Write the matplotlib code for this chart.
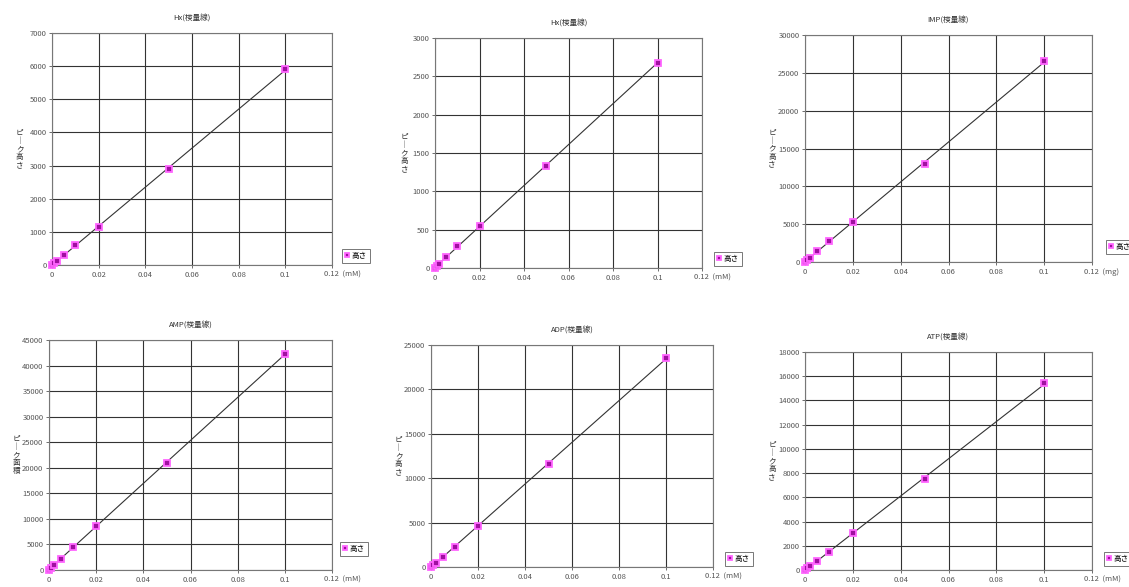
import numpy as np
import matplotlib
matplotlib.use("Agg")
import matplotlib.pyplot as plt
import matplotlib.transforms as mtrans

plt.rcParams['font.family'] = ['Noto Sans CJK JP', 'DejaVu Sans']

# concentrations (same for every standard)
conc = [0, 0.001, 0.002, 0.005, 0.01, 0.02, 0.05, 0.1]

titles = ["Hx(検量線)", "Hx(検量線)", "IMP(検量線)",
          "AMP(検量線)", "ADP(検量線)", "ATP(検量線)"]
ylabels = ["ピーク高さ", "ピーク高さ", "ピーク高さ",
           "ピーク面積", "ピーク高さ", "ピーク高さ"]
units = ["(mM)", "(mM)", "(mg)", "(mM)", "(mM)", "(mM)"]
legend_label = "高さ"

hx = [0, 60, 120, 290, 590, 1160, 2900, 5900]
hxr = [0, 28, 55, 150, 285, 550, 1330, 2680]
imp = [0, 270, 550, 1400, 2780, 5300, 13000, 26500]
amp = [0, 450, 900, 2250, 4500, 8700, 21000, 42200]
adp = [0, 235, 470, 1100, 2200, 4600, 11600, 23500]
atp = [0, 150, 300, 750, 1450, 3050, 7500, 15400]
series = [hx, hxr, imp, amp, adp, atp]

ymax = [7000, 3000, 30000, 45000, 25000, 18000]
ystep = [1000, 500, 5000, 5000, 5000, 2000]

xticks = [0, 0.02, 0.04, 0.06, 0.08, 0.1, 0.12]
xticklabels = ["0", "0.02", "0.04", "0.06", "0.08", "0.1", "0.12"]

W, H = 1129, 587
# axes boxes in pixels: left, top, right, bottom
boxes = [(52, 33, 332, 265), (435, 38, 702, 268), (805, 35, 1092, 262),
         (49, 340, 332, 570), (431, 345, 713, 567), (805, 352, 1092, 570)]
# legend anchor in pixels: left x, centre y
leg_pos = [(338, 256), (710, 259), (1102, 247),
           (336, 549), (721, 559), (1100, 559)]

fig = plt.figure(figsize=(W / 100, H / 100), dpi=100)
fig.patch.set_facecolor("white")

tc = "#555555"
fs = 5.5

for i in range(6):
    l, t, r, b = boxes[i]
    ax = fig.add_axes([l / W, 1 - b / H, (r - l) / W, (b - t) / H])
    y = series[i]
    # trendline through the points
    k, c = np.polyfit(conc, y, 1)
    xl = np.array([0, 0.1])
    ax.plot(xl, k * xl + c, color="#333333", lw=0.8, zorder=3)
    ax.plot(conc, y, ls="none", marker="s", ms=5, color="#a010a0",
            mec="#ff66ff", mew=1.3, label=legend_label, zorder=4,
            clip_on=False)

    ax.set_xlim(0, 0.12)
    ax.set_ylim(0, ymax[i])
    ax.set_xticks(xticks)
    labs = xticklabels[:-1] + [xticklabels[-1] + "  " + units[i]]
    ax.set_xticklabels(labs)
    ax.set_yticks(np.arange(0, ymax[i] + 1, ystep[i]))
    ax.set_yticklabels([str(v) for v in np.arange(0, ymax[i] + 1, ystep[i])])
    ax.tick_params(labelsize=fs, colors=tc, length=2, width=0.6, pad=2)
    # last label: keep "0.12" centred on its tick, unit hangs to the right
    last = ax.get_xticklabels()[-1]
    last.set_horizontalalignment("left")
    last.set_transform(last.get_transform() +
                       mtrans.ScaledTranslation(-6 / 72, 0, fig.dpi_scale_trans))
    ax.grid(True, color="#333333", lw=0.8)
    ax.set_axisbelow(True)
    for s in ax.spines.values():
        s.set_color("#777777")
        s.set_linewidth(0.8)

    ax.set_title(titles[i], fontsize=fs, color="#333333", pad=9)
    ax.text(-0.115, 0.5, "\n".join(ylabels[i].replace("ー", "｜")),
            transform=ax.transAxes, fontsize=fs, color="#333333",
            ha="center", va="center", linespacing=1.0)

    lx, ly = leg_pos[i]
    leg = ax.legend(loc="center left", bbox_to_anchor=(lx / W, 1 - ly / H),
                    bbox_transform=fig.transFigure, fontsize=fs,
                    frameon=True, fancybox=False, handlelength=0.6,
                    handletextpad=0.3, borderpad=0.4, markerscale=0.7)
    leg.get_frame().set_edgecolor("#555555")
    leg.get_frame().set_linewidth(0.7)

fig.savefig("out.png", dpi=100)
